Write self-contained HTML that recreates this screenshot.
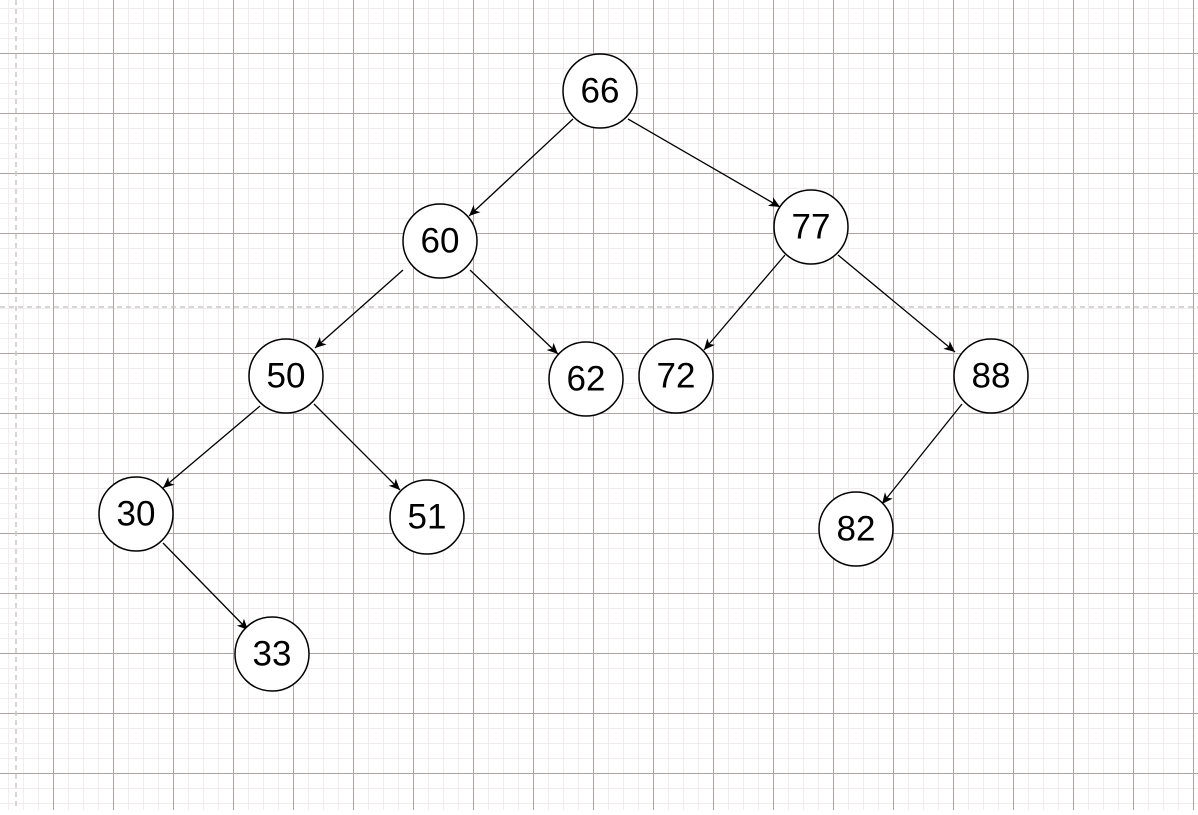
<!DOCTYPE html>
<html><head><style>
body{margin:0;width:1198px;height:810px;overflow:hidden;background:#fff}
</style></head><body>
<svg width="1198" height="810" xmlns="http://www.w3.org/2000/svg" font-family="Liberation Sans, sans-serif">
<defs>
<pattern id="minor" x="8" y="8" width="15" height="15" patternUnits="userSpaceOnUse">
<path d="M0 0H15M0 0V15" stroke="#ede7e7" stroke-width="1.5" fill="none"/>
</pattern>
<pattern id="major" x="53" y="53" width="60" height="60" patternUnits="userSpaceOnUse">
<path d="M0 0.5H60M0.5 0V60" stroke="#ada3a3" stroke-width="1" fill="none"/>
</pattern>
<marker id="a" markerWidth="12" markerHeight="10" refX="11" refY="5" orient="auto" markerUnits="userSpaceOnUse">
<path d="M0 0L11 5L0 10L3 5Z" fill="#000"/>
</marker>
</defs>
<rect width="1198" height="810" fill="url(#minor)"/>
<rect width="1198" height="810" fill="url(#major)"/>
<line x1="16" y1="0" x2="16" y2="810" stroke="#c8c8c8" stroke-width="1.5" stroke-dasharray="5,4"/>
<line x1="0" y1="307" x2="1198" y2="307" stroke="#c8c8c8" stroke-width="1.5" stroke-dasharray="5,4"/>
<g stroke="#000" stroke-width="1.3" marker-end="url(#a)">
<line x1="573" y1="119" x2="469" y2="216"/>
<line x1="628" y1="119" x2="780" y2="207"/>
<line x1="403" y1="270" x2="315" y2="348"/>
<line x1="470" y1="270" x2="558" y2="354"/>
<line x1="785" y1="255" x2="704" y2="350"/>
<line x1="838" y1="255" x2="955" y2="352"/>
<line x1="962" y1="404" x2="882" y2="504"/>
<line x1="260" y1="406" x2="163" y2="488"/>
<line x1="314" y1="404" x2="400" y2="490"/>
<line x1="163" y1="543" x2="248" y2="630"/>
</g>
<g fill="#fff" stroke="#000" stroke-width="1.5">
<circle cx="600" cy="91" r="37"/><circle cx="440" cy="241" r="37"/><circle cx="811" cy="227" r="37"/>
<circle cx="286" cy="376" r="37"/><circle cx="586" cy="379" r="37"/><circle cx="676" cy="376" r="37"/>
<circle cx="991" cy="376" r="37"/><circle cx="136" cy="514" r="37"/><circle cx="427" cy="517" r="37"/>
<circle cx="856" cy="529" r="37"/><circle cx="272" cy="654" r="37"/>
</g>
<g font-size="35" text-anchor="middle" dominant-baseline="central" fill="#000">
<text x="600" y="91">66</text><text x="440" y="241">60</text><text x="811" y="227">77</text>
<text x="286" y="376">50</text><text x="586" y="379">62</text><text x="676" y="376">72</text>
<text x="991" y="376">88</text><text x="136" y="514">30</text><text x="427" y="517">51</text>
<text x="856" y="529">82</text><text x="272" y="654">33</text>
</g>
</svg>
</body></html>
